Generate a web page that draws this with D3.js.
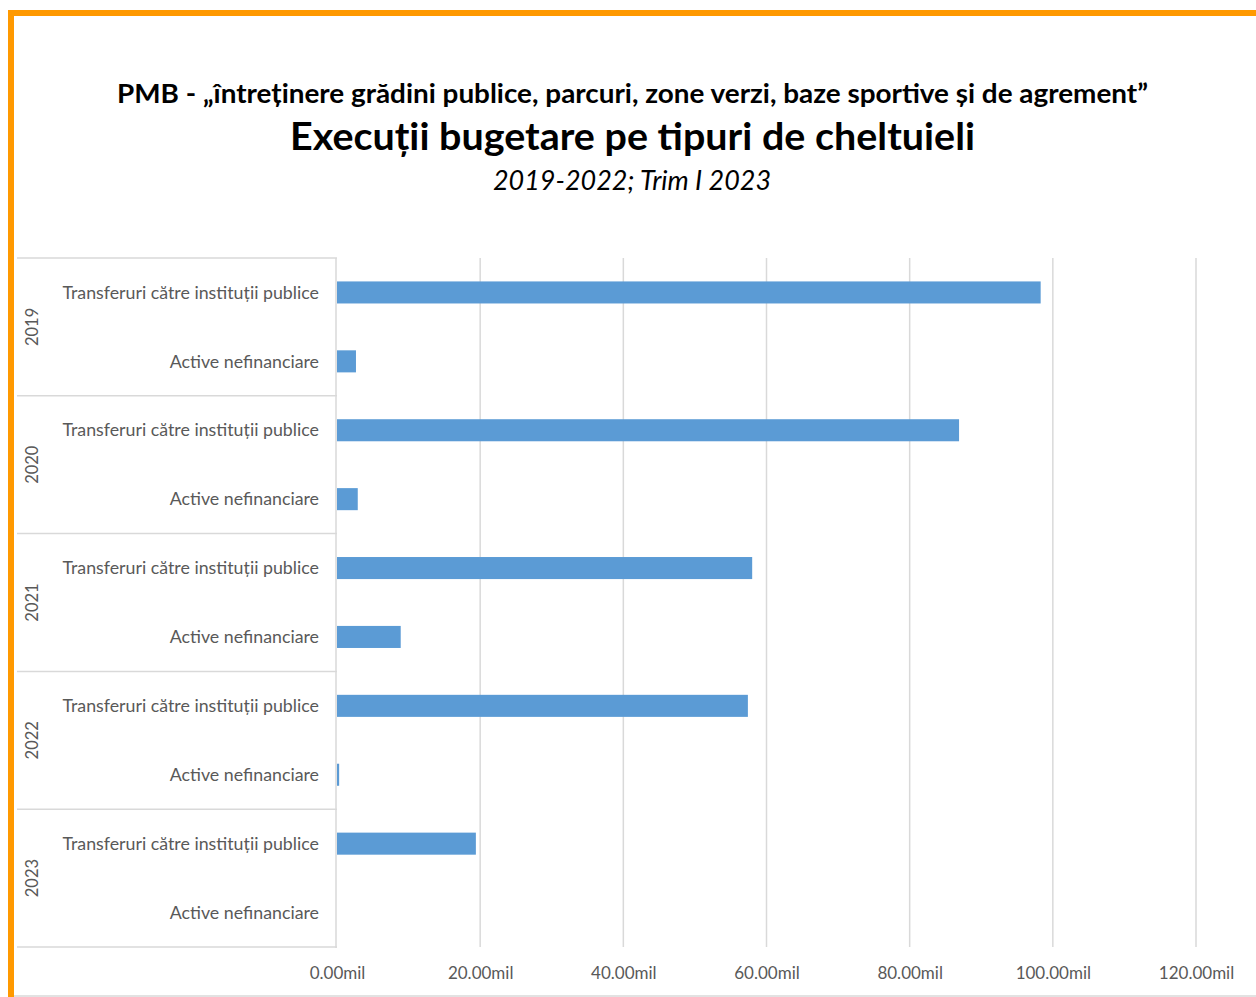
<!DOCTYPE html>
<html><head><meta charset="utf-8">
<script src="https://cdn.jsdelivr.net/npm/d3@7"></script>
<style>body{margin:0;background:#fff}svg{display:block}</style>
</head><body><svg id="c" width="1256" height="997"></svg>
<script>
const years = ["2019","2020","2021","2022","2023"];
const types = ["Transferuri către instituții publice","Active nefinanciare"];
const transferuri = [98.3, 86.9, 58.0, 57.4, 19.4];
const active = [2.65, 2.9, 8.9, 0.3, 0];
const ticks = [0,20,40,60,80,100,120];
const titles = ["PMB - „întreținere grădini publice, parcuri, zone verzi, baze sportive și de agrement”","Execuții bugetare pe tipuri de cheltuieli","2019-2022; Trim I 2023"];

const rows = [];
years.forEach((y,i)=>{rows.push({year:y,type:types[0],v:transferuri[i]});rows.push({year:y,type:types[1],v:active[i]});});

const svg = d3.select("#c");
const F = "Lato, 'Open Sans', sans-serif";
svg.append("rect").attr("x",0).attr("y",0).attr("width",1256).attr("height",997).attr("fill","#fff");
// border
svg.append("line").attr("x1",11).attr("x2",11).attr("y1",10).attr("y2",997).attr("stroke","#FF9900").attr("stroke-width",6);
svg.append("line").attr("x1",8).attr("x2",1256).attr("y1",13).attr("y2",13).attr("stroke","#FF9900").attr("stroke-width",6);
svg.append("line").attr("x1",14).attr("x2",1256).attr("y1",996).attr("y2",996).attr("stroke","#d9d9d9").attr("stroke-width",1.5);

// titles
svg.append("text").attr("x",632.5).attr("y",103).attr("text-anchor","middle").attr("font-family",F).attr("font-weight","bold").attr("font-size",27.5).attr("fill","#000")
  .attr("textLength",1031).attr("lengthAdjust","spacingAndGlyphs").text(titles[0]);
svg.append("text").attr("x",632.5).attr("y",150).attr("text-anchor","middle").attr("font-family",F).attr("font-weight","bold").attr("font-size",38.5).attr("fill","#000")
  .attr("textLength",685).attr("lengthAdjust","spacingAndGlyphs").text(titles[1]);
svg.append("text").attr("x",632).attr("y",190).attr("text-anchor","middle").attr("font-family",F).attr("font-style","italic").attr("font-size",26.5).attr("fill","#000")
  .attr("textLength",278).attr("lengthAdjust","spacingAndGlyphs").text(titles[2]);

const x0=337, x1=1196, yTop=258, yBot=947;
const x = d3.scaleLinear().domain([0,120]).range([x0,x1]);
const y = d3.scaleBand().domain(rows.map(d=>d.year+"|"+d.type)).range([yTop,yBot]).paddingInner(0.68).paddingOuter(0.34);
const yg = d3.scaleBand().domain(years).range([yTop,yBot]);

// gridlines
svg.append("g").selectAll("line").data(ticks.slice(1)).join("line")
  .attr("x1",d=>x(d)).attr("x2",d=>x(d)).attr("y1",yTop).attr("y2",yBot)
  .attr("stroke","#d9d9d9").attr("stroke-width",1.5);

// bars
svg.append("g").selectAll("rect").data(rows).join("rect")
  .attr("x",x(0)).attr("y",d=>y(d.year+"|"+d.type)).attr("height",y.bandwidth())
  .attr("width",d=>x(d.v)-x(0)).attr("fill","#5B9BD5");

// category axis lines (table)
const gl = svg.append("g").attr("stroke","#d9d9d9").attr("stroke-width",1.5);
gl.append("line").attr("x1",x0-1).attr("x2",x0-1).attr("y1",yTop).attr("y2",yBot+1);
gl.selectAll("line.h").data(years.map(d=>yg(d)).concat([yBot])).join("line").attr("class","h")
  .attr("x1",17).attr("x2",x0).attr("y1",d=>d).attr("y2",d=>d);

// category labels
svg.append("g").selectAll("text").data(rows).join("text")
  .attr("x",319).attr("y",d=>y(d.year+"|"+d.type)+y.bandwidth()/2).attr("dy","0.35em")
  .attr("text-anchor","end").attr("font-family",F).attr("font-size",17.8).attr("fill","#595959").text(d=>d.type);
// year labels
svg.append("g").selectAll("text").data(years).join("text")
  .attr("transform",d=>`translate(38,${yg(d)+yg.bandwidth()/2}) rotate(-90)`)
  .attr("text-anchor","middle").attr("font-family",F).attr("font-size",16.5).attr("fill","#595959").text(d=>d);

// x axis
const xa = svg.append("g").attr("transform",`translate(0,${yBot})`)
  .call(d3.axisBottom(x).tickValues(ticks).tickSize(0).tickPadding(20).tickFormat(d=>d.toFixed(2)+"mil"));
xa.select(".domain").remove();
xa.selectAll("text").attr("font-family",F).attr("font-size",17).attr("fill","#595959");
</script></body></html>
